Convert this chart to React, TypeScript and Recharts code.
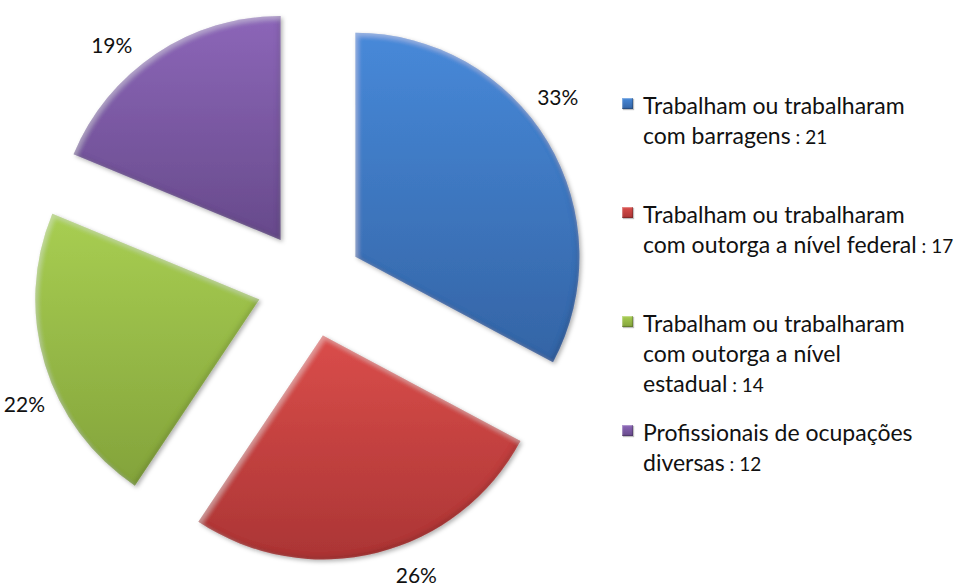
import { PieChart, Pie, Cell, Legend } from 'recharts';

const CATEGORIES = [
  'Trabalham ou trabalharam\ncom barragens',
  'Trabalham ou trabalharam\ncom outorga a nível federal',
  'Trabalham ou trabalharam\ncom outorga a nível\nestadual',
  'Profissionais de ocupações\ndiversas',
];
const COUNTS = [21, 17, 14, 12];
const COLORS_TOP = ['#4789d9', '#da4d4a', '#a8ce52', '#8c66b8'];
const COLORS_BOTTOM = ['#3464a5', '#ab3535', '#83a33b', '#674a8b'];

const WIDTH = 954;
const HEIGHT = 584;
const RADIUS = 224;
const EXPLODE = 53;
const RADIAN = Math.PI / 180;
const FONT = 'Lato, "Open Sans", sans-serif';

const total = COUNTS.reduce((a, b) => a + b, 0);

// whole percentages that still add up to 100 (largest remainder)
const percents = (() => {
  const raw = COUNTS.map((v) => (v / total) * 100);
  const out = raw.map(Math.floor);
  let left = 100 - out.reduce((a, b) => a + b, 0);
  const order = raw.map((r, i) => ({ i, rest: r - Math.floor(r) })).sort((a, b) => b.rest - a.rest);
  for (const o of order) {
    if (left <= 0) break;
    out[o.i] += 1;
    left -= 1;
  }
  return out;
})();

const chartData = CATEGORIES.map((name, i) => ({ name, value: COUNTS[i], pct: percents[i] }));

// push every slice out along its middle angle (clockwise from 12 o'clock)
const offsets = (() => {
  let acc = 0;
  return COUNTS.map((v) => {
    const mid = 90 - ((acc + v / 2) / total) * 360;
    acc += v;
    return { dx: EXPLODE * Math.cos(mid * RADIAN), dy: -EXPLODE * Math.sin(mid * RADIAN) };
  });
})();

const renderLabel = (props: any) => {
  const { cx, cy, midAngle, outerRadius, index } = props;
  const angle = (midAngle + 6) * RADIAN;
  const r = outerRadius + EXPLODE + 33;
  const fontSize = 21;
  return (
    <text
      x={cx + r * Math.cos(angle)}
      y={cy - r * Math.sin(angle) + fontSize * 0.36}
      textAnchor="middle"
      fontSize={fontSize}
      fontFamily={FONT}
      fill="#111"
    >
      {`${chartData[index].pct}%`}
    </text>
  );
};

const renderLegend = () => (
  <div style={{ fontFamily: FONT, color: '#111', textAlign: 'left' }}>
    {chartData.map((d, i) => (
      <div key={d.name} style={{ position: 'relative', height: 109, paddingLeft: 21 }}>
        <span
          style={{
            position: 'absolute',
            left: 0,
            top: 8,
            width: 11,
            height: 11,
            background: `linear-gradient(${COLORS_TOP[i]}, ${COLORS_BOTTOM[i]})`,
            boxShadow: 'inset -1px -1px 1px rgba(0,0,0,0.25), inset 1px 1px 1px rgba(255,255,255,0.35), 1px 1px 1px rgba(0,0,0,0.25)',
          }}
        />
        <div style={{ fontSize: 23, lineHeight: '30px', whiteSpace: 'pre' }}>
          {d.name}
          <span style={{ fontSize: 19 }}> : {d.value}</span>
        </div>
      </div>
    ))}
  </div>
);

export default function App() {
  return (
    <div
      style={{
        position: 'absolute',
        left: 0,
        top: 0,
        width: WIDTH,
        height: HEIGHT,
        overflow: 'hidden',
        background: '#fff',
        fontFamily: FONT,
      }}
    >
      <PieChart width={WIDTH} height={HEIGHT} margin={{ top: 0, right: 0, bottom: 0, left: 0 }}>
        <defs>
          {COLORS_TOP.map((c, i) => (
            <linearGradient key={c} id={`slice${i}`} x1="0" y1="0" x2="0" y2="1">
              <stop offset="0%" stopColor={c} />
              <stop offset="100%" stopColor={COLORS_BOTTOM[i]} />
            </linearGradient>
          ))}
          <filter id="bevel" x="-10%" y="-10%" width="125%" height="125%">
            <feGaussianBlur in="SourceAlpha" stdDeviation="2.5" result="blur" />
            <feOffset in="blur" dx="-2" dy="-2.5" result="upLeft" />
            <feComposite in="SourceAlpha" in2="upLeft" operator="out" result="lowEdge" />
            <feFlood floodColor="#000" floodOpacity="0.28" result="darkFill" />
            <feComposite in="darkFill" in2="lowEdge" operator="in" result="darkEdge" />
            <feOffset in="blur" dx="2" dy="2.5" result="downRight" />
            <feComposite in="SourceAlpha" in2="downRight" operator="out" result="highEdge" />
            <feFlood floodColor="#fff" floodOpacity="0.3" result="lightFill" />
            <feComposite in="lightFill" in2="highEdge" operator="in" result="lightEdge" />
            <feGaussianBlur in="SourceAlpha" stdDeviation="2" result="shadowBlur" />
            <feOffset in="shadowBlur" dx="1.5" dy="2" result="shadowOff" />
            <feFlood floodColor="#000" floodOpacity="0.3" result="shadowFill" />
            <feComposite in="shadowFill" in2="shadowOff" operator="in" result="shadow" />
            <feMerge>
              <feMergeNode in="shadow" />
              <feMergeNode in="SourceGraphic" />
              <feMergeNode in="darkEdge" />
              <feMergeNode in="lightEdge" />
            </feMerge>
          </filter>
        </defs>
        <Pie
          data={chartData}
          dataKey="value"
          nameKey="name"
          cx={310}
          cy={284}
          outerRadius={RADIUS}
          startAngle={90}
          endAngle={-270}
          stroke="none"
          label={renderLabel}
          labelLine={false}
          isAnimationActive={false}
        >
          {chartData.map((d, i) => (
            <Cell
              key={d.name}
              fill={`url(#slice${i})`}
              filter="url(#bevel)"
              transform={`translate(${offsets[i].dx} ${offsets[i].dy})`}
              style={{ transform: `translate(${offsets[i].dx}px, ${offsets[i].dy}px)` }}
            />
          ))}
        </Pie>
        <Legend
          layout="vertical"
          align="right"
          verticalAlign="top"
          width={330}
          wrapperStyle={{ left: 622, top: 90, right: 'auto' }}
          content={renderLegend}
        />
      </PieChart>
    </div>
  );
}
